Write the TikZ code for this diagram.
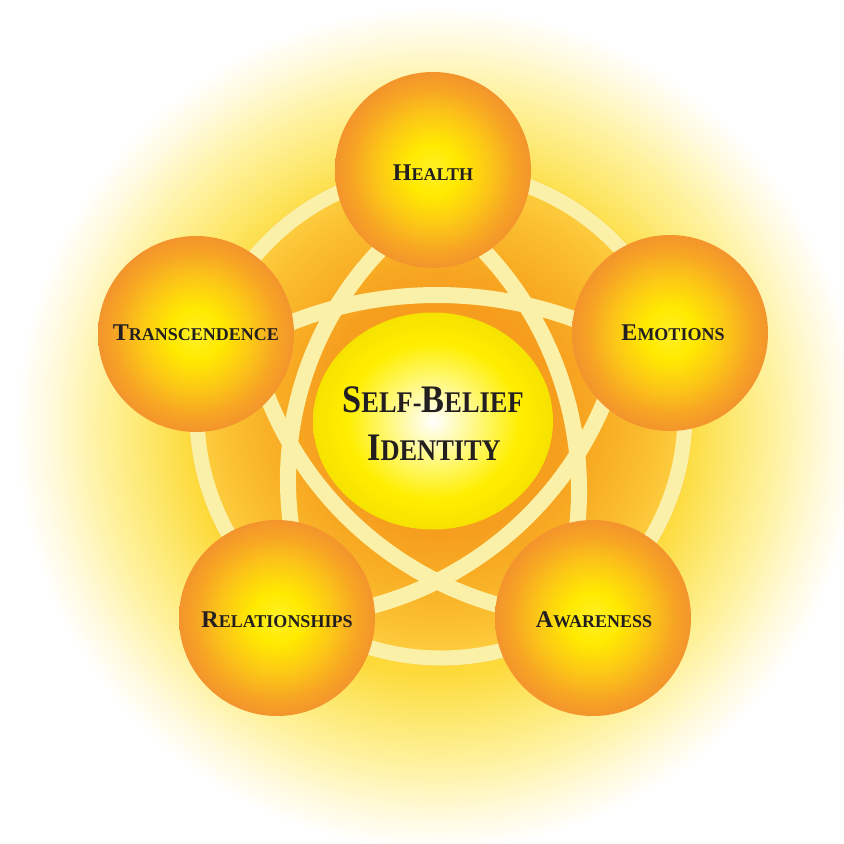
\documentclass[tikz,border=0pt]{standalone}
\usepackage{fontspec}
\setmainfont{Liberation Serif}
\newfontfamily\corefont{Liberation Serif}[FakeStretch=0.88]
\usetikzlibrary{shapes.geometric}
% colours
\definecolor{band}{RGB}{250,240,168}
\definecolor{txt}{RGB}{35,31,32}
\definecolor{gla}{RGB}{253,218,58}
\definecolor{glb}{RGB}{253,231,105}
\definecolor{glc}{RGB}{254,242,160}
\definecolor{gld}{RGB}{255,250,222}
\definecolor{da}{RGB}{244,148,28}
\definecolor{db}{RGB}{246,158,30}
\definecolor{dc}{RGB}{248,172,36}
\definecolor{dd}{RGB}{251,192,50}
\definecolor{de}{RGB}{253,210,66}
\definecolor{sa}{RGB}{255,240,40}
\definecolor{sb}{RGB}{255,234,0}
\definecolor{sc}{RGB}{252,200,22}
\definecolor{sd}{RGB}{247,166,36}
\definecolor{se}{RGB}{243,148,44}
\definecolor{ca}{RGB}{255,252,200}
\definecolor{cb}{RGB}{255,247,100}
\definecolor{cc}{RGB}{255,238,0}
\definecolor{cd}{RGB}{246,226,0}
% shadings (path edge = 25bp)
\pgfdeclareradialshading{glow}{\pgfpoint{0bp}{0bp}}{color(0bp)=(gla); color(14.5bp)=(gla); color(17bp)=(glb); color(20bp)=(glc); color(23bp)=(gld); color(25bp)=(white); color(50bp)=(white)}
\pgfdeclareradialshading{disc}{\pgfpoint{0bp}{0bp}}{color(0bp)=(da); color(12bp)=(db); color(16bp)=(dc); color(21bp)=(dd); color(25bp)=(de); color(50bp)=(de)}
\pgfdeclareradialshading{sphere}{\pgfpoint{0bp}{0bp}}{color(0bp)=(sa); color(6.5bp)=(sb); color(14bp)=(sc); color(20.5bp)=(sd); color(25bp)=(se); color(50bp)=(se)}
\pgfdeclareradialshading{core}{\pgfpoint{0bp}{0bp}}{color(0bp)=(white); color(4bp)=(ca); color(11bp)=(cb); color(18bp)=(cc); color(25bp)=(cd); color(50bp)=(cd)}
% fake small caps
\newcommand\outsc[2]{{\fontsize{24pt}{24pt}\selectfont #1}{\fontsize{18pt}{18pt}\selectfont #2}}
\newcommand\ctrsc[2]{{\fontsize{39pt}{39pt}\selectfont #1}{\fontsize{30pt}{30pt}\selectfont #2}}
\begin{document}
\begin{tikzpicture}[x=1pt,y=-1pt,
  bandline/.style={draw=band,line width=16pt},
  ball/.style={circle,minimum size=196pt,inner sep=0pt,shading=sphere},
  lbl/.style={anchor=base,text=txt,font=\bfseries,inner sep=0pt},
  corelbl/.style={anchor=base,text=txt,font=\corefont\bfseries,inner sep=0pt}]
\useasboundingbox (0,0) rectangle (844,844);
\fill[white] (0,0) rectangle (844,844);
\clip (0,0) rectangle (844,844);
% glow and disc
\shade[shading=glow] (437,428) circle[radius=422];
\shade[shading=disc] (441,414) circle[radius=252];
\draw[draw=band,line width=15pt] (441,414) circle[radius=244];
% pentagram arcs
\draw[bandline] (437,696) ++(-121:401) arc[start angle=-121, end angle=-59, radius=401];
\draw[bandline] (621,480) ++(150:333) arc[start angle=150, end angle=235, radius=333];
\draw[bandline] (231,490) ++(-55:348) arc[start angle=-55, end angle=28, radius=348];
\draw[bandline] (593,268) ++(95:350) arc[start angle=95, end angle=165, radius=350];
\draw[bandline] (281,268) ++(15:350) arc[start angle=15, end angle=85, radius=350];
% centre
\node[ellipse,minimum width=240pt,minimum height=217pt,inner sep=0pt,shading=core] (core) at (433,421) {};
% spheres
\node[ball] (health) at (433,170) {};
\node[ball] (emotions) at (670,333) {};
\node[ball] (transc) at (196,334) {};
\node[ball] (relat) at (277,618) {};
\node[ball] (aware) at (593,618) {};
% labels
\node[lbl] (healthL) at (433,180) {\outsc{H}{EALTH}};
\node[lbl] (emotionsL) at (673,340) {\outsc{E}{MOTIONS}};
\node[lbl] (transcL) at (196,340) {\outsc{T}{RANSCENDENCE}};
\node[lbl] (relatL) at (277,627) {\outsc{R}{ELATIONSHIPS}};
\node[lbl] (awareL) at (594,627) {\outsc{A}{WARENESS}};
\node[corelbl] (selfL) at (433,412) {\ctrsc{S}{ELF-}\ctrsc{B}{ELIEF}};
\node[corelbl] (identL) at (434,460) {\ctrsc{I}{DENTITY}};
\end{tikzpicture}
\end{document}
